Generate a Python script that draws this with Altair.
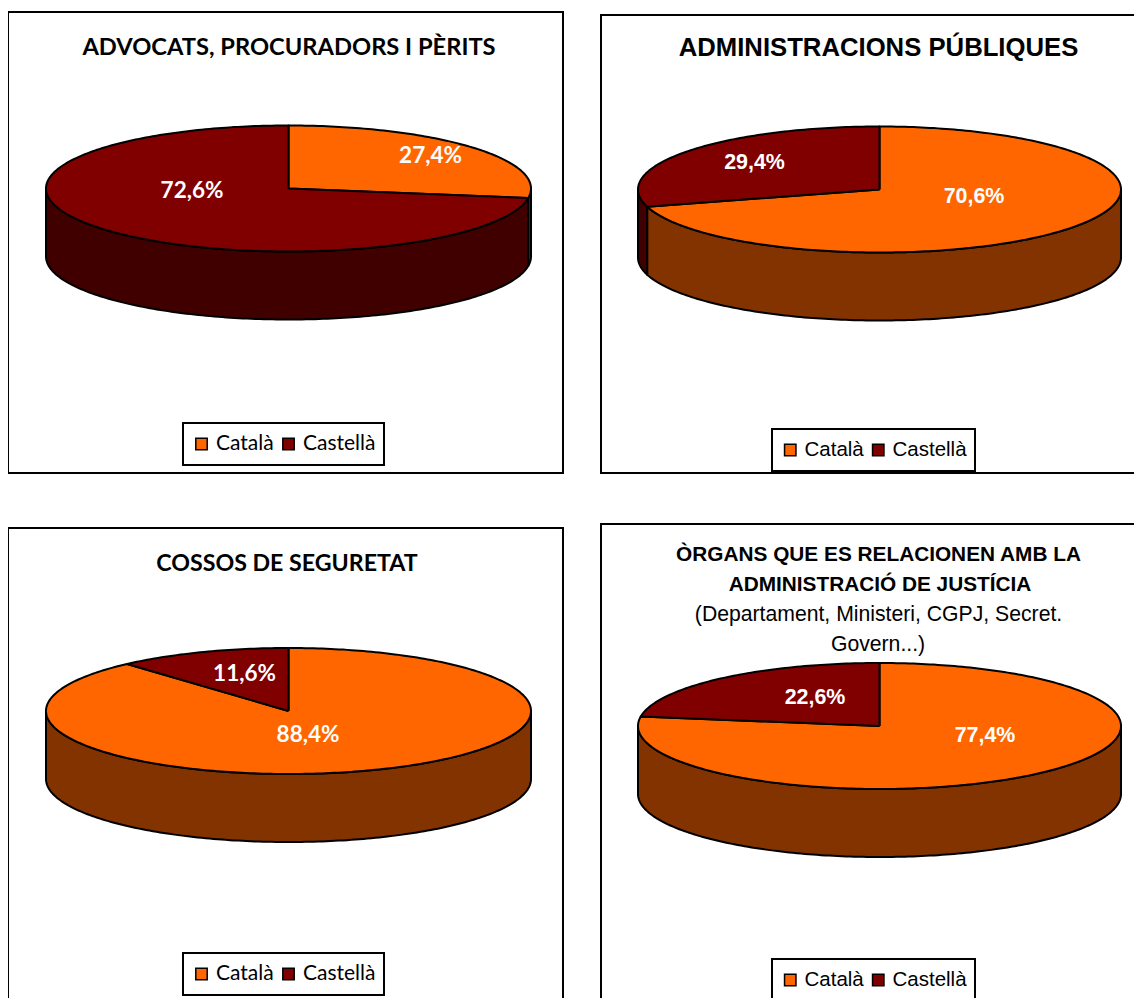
import math
import altair as alt
import pandas as pd

LANGS = ["Català", "Castellà"]
TOP_COLORS = ["#FF6600", "#800000"]
WALL_COLORS = ["#833300", "#400000"]

CATALA = [27.4, 70.6, 88.4, 77.4]
CASTELLA = [72.6, 29.4, 11.6, 22.6]

GOTHIC = "Lato"
ARIAL = "Liberation Sans"

# layout of each panel, in page pixels
PANELS = [
    dict(box=(8, 12, 563, 473), c=(288.5, 188.5), rx=242.5, font=GOTHIC, legend=(175, 415), size=21,
         labsize=22.5, lab=[(430.5, 156), (192, 191)]),
    dict(box=(601, 15, 1160, 473), c=(879.5, 189.5), rx=241.5, font=ARIAL, legend=(764, 421), size=20.5,
         labsize=21.4, lab=[(974, 197), (754.5, 163)]),
    dict(box=(8, 528, 563, 1010), c=(288.5, 711), rx=242.5, font=GOTHIC, legend=(175, 945), size=21,
         labsize=22.5, lab=[(308, 735), (244.5, 674)]),
    dict(box=(601, 524, 1160, 1010), c=(879.5, 726), rx=241.5, font=ARIAL, legend=(764, 951), size=20.5,
         labsize=21.4, lab=[(985, 736), (815, 698)]),
]
RY, DEPTH = 63, 68

TITLES = [
    ("ADVOCATS, PROCURADORS I PÈRITS", 289, 48, GOTHIC, 23.7, "bold"),
    ("ADMINISTRACIONS PÚBLIQUES", 878.5, 48, ARIAL, 25.7, "bold"),
    ("COSSOS DE SEGURETAT", 287, 564, GOTHIC, 23.2, "bold"),
    ("ÒRGANS QUE ES RELACIONEN AMB LA", 878.5, 555, ARIAL, 20.8, "bold"),
    ("ADMINISTRACIÓ DE JUSTÍCIA", 880, 585, ARIAL, 20.8, "bold"),
    ("(Departament, Ministeri, CGPJ, Secret.", 878.5, 615, ARIAL, 21.2, "normal"),
    ("Govern...)", 878, 645, ARIAL, 21.2, "normal"),
]

W, H = 1126, 990
xs = alt.Scale(domain=[8, 8 + W], nice=False, zero=False)
ys = alt.Scale(domain=[8 + H, 8], nice=False, zero=False)
X = alt.X("x:Q", scale=xs, axis=None)
Y = alt.Y("y:Q", scale=ys, axis=None)


def pt(c, rx, deg, dy=0):
    r = math.radians(deg)
    return c[0] + rx * math.sin(r), c[1] - RY * math.cos(r) + dy


tops_by_panel, wall_rows, label_rows = [], [], []
for p, panel in enumerate(PANELS):
    c, rx = panel["c"], panel["rx"]
    split = CATALA[p] * 3.6
    spans = [(0.0, split), (split, 360.0)]
    rows = []
    for k, (a, b) in enumerate(spans):
        n = max(2, int(b - a))
        arc = [pt(c, rx, a + (b - a) * i / n) for i in range(n + 1)]
        poly = [c] + arc + [c]
        for i, (x, y) in enumerate(poly):
            rows.append(dict(x=x, y=y, i=i, lang=LANGS[k]))
        # side wall: the part of the slice on the front half of the ellipse
        a2, b2 = max(a, 90.0), min(b, 270.0)
        if b2 > a2:
            m = max(2, int(b2 - a2))
            front = [pt(c, rx, a2 + (b2 - a2) * i / m) for i in range(m + 1)]
            back = [pt(c, rx, b2 - (b2 - a2) * i / m, DEPTH) for i in range(m + 1)]
            wall = front + back + front[:1]
            for i, (x, y) in enumerate(wall):
                wall_rows.append(dict(x=x, y=y, i=i, part=f"{p}-{k}", col=WALL_COLORS[k]))
    tops_by_panel.append(pd.DataFrame(rows))
    for k, v in enumerate((CATALA[p], CASTELLA[p])):
        label_rows.append(dict(x=panel["lab"][k][0], y=panel["lab"][k][1],
                               t=f"{v:.1f}".replace(".", ",") + "%", font=panel["font"],
                               size=panel["labsize"]))

boxes = pd.DataFrame(
    [dict(x=b["box"][0], y=b["box"][1], x2=b["box"][2], y2=b["box"][3]) for b in PANELS]
)
layers = [
    alt.Chart(boxes).mark_rect(fill="white", stroke="black", strokeWidth=2, clip=True).encode(
        x=X, y=Y, x2="x2:Q", y2="y2:Q"
    ),
    alt.Chart(pd.DataFrame(wall_rows)).mark_line(stroke="black", strokeWidth=2, strokeJoin="round").encode(
        x=X, y=Y, detail="part:N", order="i:Q", fill=alt.Fill("col:N", scale=None, legend=None)
    ),
]
for p, df in enumerate(tops_by_panel):
    panel = PANELS[p]
    lx, ly = panel["legend"]
    layers.append(
        alt.Chart(df).mark_line(stroke="black", strokeWidth=2, strokeJoin="round").encode(
            x=X, y=Y, order="i:Q",
            fill=alt.Fill(
                "lang:N",
                scale=alt.Scale(domain=LANGS, range=TOP_COLORS),
                legend=alt.Legend(
                    title=None, orient="none", direction="horizontal",
                    legendX=lx, legendY=ly,
                    fillColor="white", strokeColor="black", padding=8,
                    symbolType="square", symbolSize=130, symbolStrokeColor="black",
                    symbolStrokeWidth=1.5, labelFont=panel["font"], clipHeight=26,
                    labelFontSize=panel["size"], labelColor="black", columnPadding=4,
                    symbolOpacity=1,
                ),
            ),
        )
    )
for font in (GOTHIC, ARIAL):
    rows = [r for r in label_rows if r["font"] == font]
    layers.append(
        alt.Chart(pd.DataFrame(rows)).mark_text(
            font=font, fontSize=rows[0]["size"], fontWeight="bold", color="white"
        ).encode(x=X, y=Y, text="t:N")
    )
title_df = pd.DataFrame(TITLES, columns=["t", "x", "y", "font", "size", "weight"])
for (font, size, weight), g in title_df.groupby(["font", "size", "weight"]):
    layers.append(
        alt.Chart(g).mark_text(font=font, fontSize=size, fontWeight=weight, color="black").encode(
            x=X, y=Y, text="t:N"
        )
    )

chart = (
    alt.layer(*layers)
    .resolve_scale(fill="independent")
    .resolve_legend(fill="independent")
    .properties(width=W, height=H, padding=0, background="white",
                autosize=alt.AutoSizeParams(type="none"))
    .configure_view(stroke=None)
    .configure_legend(strokeWidth=2)
)
chart.save("out.html", embed_options={"renderer": "svg", "actions": False})
